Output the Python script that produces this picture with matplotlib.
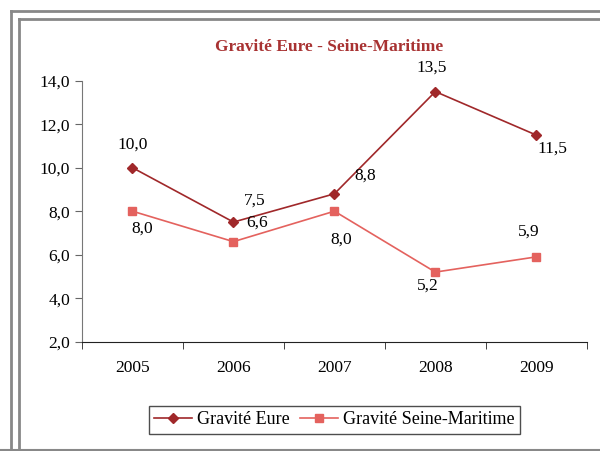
import matplotlib
matplotlib.use('Agg')
import matplotlib.pyplot as plt
from matplotlib.lines import Line2D
from matplotlib.ticker import FixedLocator, FuncFormatter

plt.rcParams['font.family'] = ['Liberation Serif', 'DejaVu Serif']

years = ['2005', '2006', '2007', '2008', '2009']
eure = [10.0, 7.5, 8.8, 13.5, 11.5]
seine = [8.0, 6.6, 8.0, 5.2, 5.9]
y_ticks = [2, 4, 6, 8, 10, 12, 14]

# label offsets in pixels (dx, dy)
eure_off = [(0, 23), (21, 21), (31, 18), (-4, 24), (16, -14)]
seine_off = [(10, -17), (24, 19), (7, -28), (-8, -14), (-8, 25)]

eure_col = '#A0282A'
seine_col = '#E4625E'

fig = plt.figure(figsize=(6, 4.51), dpi=100)
ax = fig.add_axes([0.1367, 0.2424, 0.978 - 0.1367, 0.821 - 0.2424])

x = list(range(len(years)))
ax.plot(x, eure, color=eure_col, marker='D', markersize=5.5, linewidth=1.2, label='Gravité Eure')
ax.plot(x, seine, color=seine_col, marker='s', markersize=6, linewidth=1.2, label='Gravité Seine-Maritime')

fmt = lambda v: f'{v:.1f}'.replace('.', ',')
for xi, v, (dx, dy) in zip(x, eure, eure_off):
    ax.annotate(fmt(v), (xi, v), xytext=(dx * 0.72, dy * 0.72), textcoords='offset points',
                ha='center', va='center', fontsize=12.5)
for xi, v, (dx, dy) in zip(x, seine, seine_off):
    ax.annotate(fmt(v), (xi, v), xytext=(dx * 0.72, dy * 0.72), textcoords='offset points',
                ha='center', va='center', fontsize=12.5)

ax.set_xlim(-0.5, len(years) - 0.5)
ax.set_ylim(2, 14)
ax.yaxis.set_major_locator(FixedLocator(y_ticks))
ax.yaxis.set_major_formatter(FuncFormatter(lambda v, p: fmt(v)))
ax.set_xticks(x)
ax.set_xticklabels(years)
ax.xaxis.set_minor_locator(FixedLocator([i - 0.5 for i in range(len(years) + 1)]))
ax.tick_params(axis='x', which='major', length=0, pad=13, labelsize=12.5)
ax.tick_params(axis='x', which='minor', length=5, direction='out', color='#222222')
ax.tick_params(axis='y', length=5, direction='out', labelsize=12.5, color='#666666')
for s in ['top', 'right']:
    ax.spines[s].set_visible(False)
ax.spines['left'].set_color('#777777')
ax.spines['bottom'].set_color('#222222')

fig.text(0.549, 0.896, 'Gravité Eure - Seine-Maritime', ha='center', va='center',
         fontsize=12.5, fontweight='bold', color='#A83232')

leg = fig.legend(loc='center', bbox_to_anchor=(0.557, 0.069), ncol=2, fontsize=13,
                 frameon=True, fancybox=False, edgecolor='#222222', handlelength=2.1,
                 columnspacing=0.6, handletextpad=0.25, borderpad=0.3, borderaxespad=0.2)
leg.get_frame().set_linewidth(1.0)

# double gray frame around the chart
W, H = 600, 451
for px, lw in [(11, 2), (19, 2)]:
    fig.add_artist(Line2D([px / W, px / W], [1 - px / H, 0], transform=fig.transFigure, color='#888888', linewidth=lw))
    fig.add_artist(Line2D([px / W, 1], [1 - px / H, 1 - px / H], transform=fig.transFigure, color='#888888', linewidth=lw))
fig.add_artist(Line2D([0, 1], [1 - 450 / H, 1 - 450 / H], transform=fig.transFigure, color='#888888', linewidth=1.5))

fig.savefig('out.png', dpi=100)
